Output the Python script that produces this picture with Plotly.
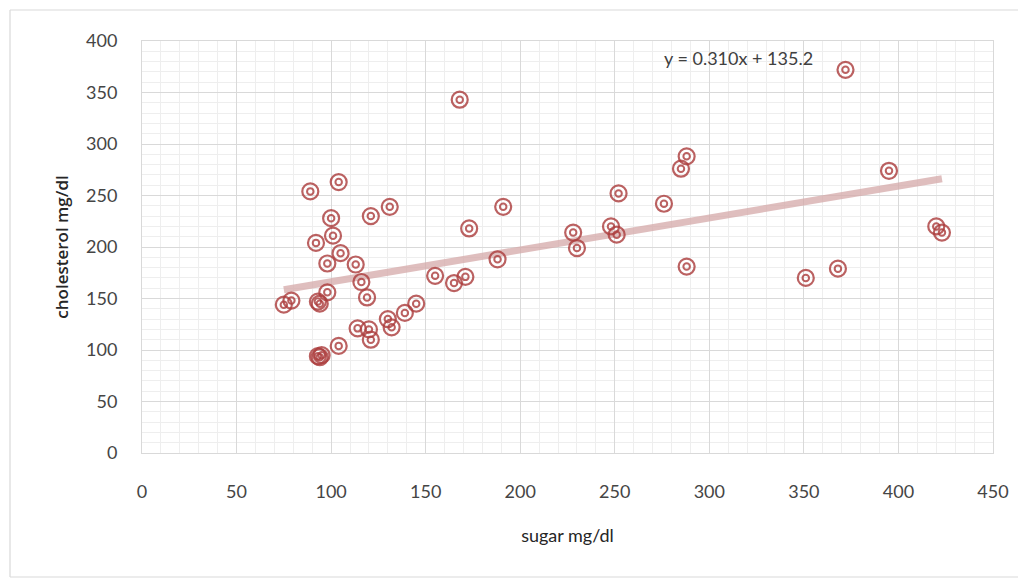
import plotly.graph_objects as go
import numpy as np

sugar = [75, 79, 89, 104, 92, 100, 101, 98, 105, 98, 93, 94, 93, 94, 95, 104,
         113, 116, 119, 121, 131, 114, 120, 121, 130, 132, 139, 145, 155, 165,
         171, 173, 168, 188, 191, 228, 230, 248, 251, 252, 276, 285, 288, 288,
         351, 368, 372, 395, 420, 423]
cholesterol = [144, 148, 254, 263, 204, 228, 211, 184, 194, 156, 147, 145, 94, 93, 95, 104,
               183, 166, 151, 230, 239, 121, 120, 110, 130, 122, 136, 145, 172, 165,
               171, 218, 343, 188, 239, 214, 199, 220, 212, 252, 242, 276, 288, 181,
               170, 179, 372, 274, 220, 214]

slope = 0.310
intercept = 135.2
eq_text = "y = 0.310x + 135.2"

x_title = "sugar mg/dl"
y_title = "cholesterol mg/dl"

mc = "rgba(172,62,62,0.82)"
FONT = "Lato, Open Sans, sans-serif"
tick_font = dict(family=FONT, size=18, color="#454545")

xt = np.array([min(sugar), max(sugar)])
yt = slope * xt + intercept

fig = go.Figure()
fig.add_trace(go.Scatter(x=xt, y=yt, mode="lines",
                         line=dict(color="rgba(212,168,168,0.75)", width=7),
                         hoverinfo="skip", showlegend=False))
fig.add_trace(go.Scatter(x=sugar, y=cholesterol, mode="markers",
                         marker=dict(symbol="circle-open", size=16, color=mc,
                                     line=dict(width=2.2, color=mc)),
                         showlegend=False))
fig.add_trace(go.Scatter(x=sugar, y=cholesterol, mode="markers",
                         marker=dict(symbol="circle-open", size=6.5, color=mc,
                                     line=dict(width=2, color=mc)),
                         showlegend=False, hoverinfo="skip"))

# page body has an 8px margin; figure is sized and placed so the plot lands where the reference's does
OFF = 8
W, H = 1026 - OFF, 579 - OFF
L, R, T, B = 142 - OFF, 33, 41 - OFF, 126
pw, ph = W - L - R, H - T - B

def px(xp):
    return (xp - OFF - L) / pw

def py(yp):
    return (H - B - (yp - OFF)) / ph

border = dict(color="#d9d9d9", width=1.2)
fig.add_shape(type="line", xref="paper", yref="paper",
              x0=px(10), x1=px(10), y0=py(577), y1=py(10), line=border, layer="below")
fig.add_shape(type="line", xref="paper", yref="paper",
              x0=px(10), x1=px(1030), y0=py(10), y1=py(10), line=border, layer="below")
fig.add_shape(type="line", xref="paper", yref="paper",
              x0=px(10), x1=px(1030), y0=py(577), y1=py(577), line=border, layer="below")

fig.add_annotation(x=px(738), y=py(58), xref="paper", yref="paper",
                   xanchor="center", yanchor="middle",
                   text=eq_text, showarrow=False,
                   font=dict(family=FONT, size=18, color="#404040"))

fig.update_layout(
    width=W, height=H,
    margin=dict(l=L, r=R, t=T, b=B),
    paper_bgcolor="white", plot_bgcolor="white",
    xaxis=dict(range=[0, 450], dtick=50, tick0=0, showgrid=True, gridcolor="#d9d9d9",
               gridwidth=1.2, zeroline=False, showline=True, linecolor="#d9d9d9",
               mirror=True, ticks="", tickfont=tick_font, ticklabelstandoff=22,
               minor=dict(dtick=10, showgrid=True, gridcolor="#eeeeee", gridwidth=1),
               title=dict(text=x_title, standoff=28,
                          font=dict(family=FONT, size=18, color="#262626"))),
    yaxis=dict(range=[0, 400], dtick=50, tick0=0, showgrid=True, gridcolor="#d9d9d9",
               gridwidth=1.2, zeroline=False, showline=True, linecolor="#d9d9d9",
               mirror=True, ticks="", tickfont=tick_font, ticklabelstandoff=20,
               minor=dict(dtick=10, showgrid=True, gridcolor="#eeeeee", gridwidth=1),
               title=dict(text=y_title, standoff=13,
                          font=dict(family="Open Sans, sans-serif", size=17, color="#262626",
                                    weight=600))),
)

fig.write_html("out.html")
